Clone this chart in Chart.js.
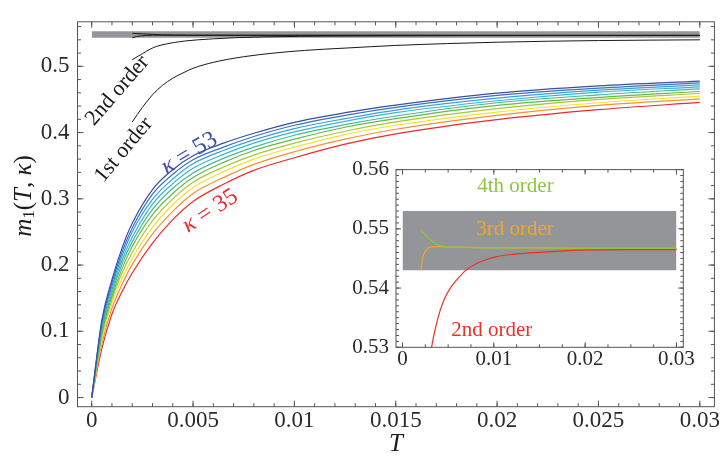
<!DOCTYPE html>
<html>
<head>
<meta charset="utf-8">
<script src="https://cdn.jsdelivr.net/npm/chart.js@4.4.1/dist/chart.umd.min.js"></script>
<style>
  html, body { margin: 0; padding: 0; background: #fff; }
  #wrap { position: relative; width: 720px; height: 457px; }
  #main { position: absolute; left: 0; top: 0; }
  #inset { position: absolute; left: 330px; top: 150px; }
</style>
</head>
<body>
<div id="wrap">
  <canvas id="main" width="720" height="457"></canvas>
  <canvas id="inset" width="370" height="230"></canvas>
</div>
<script>
// m1(T, kappa) for kappa = 53 ... 35, all on the same T grid
const tKappa = [0, 0.0005, 0.001, 0.0015, 0.002, 0.003, 0.004, 0.005, 0.0065, 0.008, 0.01, 0.0125, 0.015, 0.02, 0.025, 0.03];
const kappas = [53, 51, 49, 47, 45, 43, 41, 39, 37, 35];
const m53 = [0, 0.117, 0.178, 0.226, 0.263, 0.314, 0.344, 0.365, 0.384, 0.399, 0.4155, 0.430, 0.4415, 0.4595, 0.4705, 0.4777];
const m51 = [0, 0.113, 0.173, 0.220, 0.256, 0.307, 0.337, 0.359, 0.378, 0.394, 0.411, 0.426, 0.438, 0.456, 0.467, 0.475];
const m49 = [0, 0.109, 0.168, 0.214, 0.250, 0.299, 0.330, 0.353, 0.373, 0.389, 0.406, 0.421, 0.434, 0.452, 0.464, 0.472];
const m47 = [0, 0.105, 0.163, 0.208, 0.242, 0.292, 0.323, 0.346, 0.367, 0.384, 0.401, 0.417, 0.430, 0.448, 0.461, 0.469];
const m45 = [0, 0.101, 0.158, 0.202, 0.235, 0.284, 0.316, 0.339, 0.361, 0.378, 0.396, 0.412, 0.425, 0.445, 0.457, 0.466];
const m43 = [0, 0.097, 0.153, 0.195, 0.228, 0.276, 0.308, 0.332, 0.355, 0.373, 0.390, 0.408, 0.421, 0.441, 0.453, 0.462];
const m41 = [0, 0.092, 0.148, 0.188, 0.219, 0.267, 0.300, 0.325, 0.348, 0.366, 0.384, 0.402, 0.416, 0.436, 0.450, 0.459];
const m39 = [0, 0.087, 0.142, 0.180, 0.210, 0.257, 0.291, 0.317, 0.341, 0.360, 0.378, 0.397, 0.411, 0.431, 0.445, 0.455];
const m37 = [0, 0.081, 0.135, 0.171, 0.201, 0.247, 0.281, 0.308, 0.332, 0.352, 0.371, 0.390, 0.405, 0.426, 0.441, 0.451];
const m35 = [0, 0.074, 0.126, 0.160, 0.188, 0.233, 0.2685, 0.296, 0.322, 0.343, 0.362, 0.3825, 0.398, 0.4195, 0.4345, 0.4455];

// expansion orders
const tFirst = [0.002, 0.0025, 0.003, 0.0035, 0.004, 0.0045, 0.005, 0.006, 0.0075, 0.009, 0.0105, 0.0125, 0.015, 0.0175, 0.02, 0.025, 0.03];
const mFirst = [0.416, 0.438, 0.457, 0.4715, 0.482, 0.490, 0.497, 0.506, 0.5145, 0.520, 0.524, 0.5275, 0.5315, 0.5343, 0.5364, 0.5389, 0.540];
const tSecond = [0.002, 0.0025, 0.0029, 0.0032, 0.0037, 0.0041, 0.0046, 0.0052, 0.006, 0.0071, 0.0085, 0.0103, 0.0121, 0.0158, 0.0194, 0.025, 0.03];
const mSecond = [0.510, 0.519, 0.5262, 0.5301, 0.5338, 0.5361, 0.5382, 0.5399, 0.5415, 0.5432, 0.5444, 0.5453, 0.5457, 0.5461, 0.5464, 0.5465, 0.5465];
const tThird = [0.002, 0.0022, 0.0024, 0.0027, 0.003, 0.0035, 0.004, 0.005, 0.007, 0.01, 0.015, 0.02, 0.03];
const mThird = [0.5429, 0.5449, 0.5459, 0.5466, 0.5469, 0.5470, 0.5470, 0.5469, 0.5469, 0.5468, 0.5468, 0.5467, 0.5467];
const tFourth = [0.002, 0.0025, 0.003, 0.0035, 0.004, 0.0045, 0.005, 0.006, 0.008, 0.01, 0.015, 0.02, 0.03];
const mFourth = [0.5498, 0.5490, 0.5482, 0.5476, 0.5472, 0.5470, 0.5469, 0.5469, 0.5468, 0.5468, 0.5468, 0.5467, 0.5467];

// shaded band
const bandT = [0, 0.03];
const bandHigh = [0.553, 0.553];
const bandLow = [0.543, 0.543];

// ticks
const xTicks = [0, 0.005, 0.01, 0.015, 0.02, 0.025, 0.03];
const xTickLabels = ['0', '0.005', '0.01', '0.015', '0.02', '0.025', '0.03'];
const yTicks = [0, 0.1, 0.2, 0.3, 0.4, 0.5];
const yTickLabels = ['0', '0.1', '0.2', '0.3', '0.4', '0.5'];
const insetXTicks = [0, 0.01, 0.02, 0.03];
const insetXTickLabels = ['0', '0.01', '0.02', '0.03'];
const insetYTicks = [0.53, 0.54, 0.55, 0.56];
const insetYTickLabels = ['0.53', '0.54', '0.55', '0.56'];

const kappaSeries = [m53, m51, m49, m47, m45, m43, m41, m39, m37, m35];
const kappaColors = ['#3b4ea3', '#3c72bd', '#3a9fdb', '#35b6d6', '#46b89a', '#64ba47', '#a4c93b', '#f1e431', '#f39236', '#ec2b2c'];
const serif = '"Liberation Serif", "Times New Roman", serif';
const bandGray = '#939598';
const ink = '#1a1a1a';

function pts(ts, ms) {
    return ts.map((t, i) => ({ x: t, y: ms[i] }));
}

function line(label, data, color, width, extra) {
    return Object.assign({
        label: label,
        data: data,
        showLine: true,
        borderColor: color,
        borderWidth: width,
        pointRadius: 0,
        cubicInterpolationMode: 'monotone'
    }, extra || {});
}

function bandSets() {
    return [
        line('band', pts(bandT, bandHigh), 'rgba(0,0,0,0)', 0.01, { fill: '+1', backgroundColor: bandGray, order: 5 }),
        line('band low', pts(bandT, bandLow), 'rgba(0,0,0,0)', 0.01, { fill: false, order: 5 })
    ];
}

function minorValues(scale, step) {
    const out = [];
    const k0 = Math.ceil(scale.min / step - 1e-9);
    const k1 = Math.floor(scale.max / step + 1e-9);
    for (let k = k0; k <= k1; k++) out.push(+(k * step).toFixed(6));
    return out;
}

// box frame with inward ticks on all four sides
const framePlugin = {
    id: 'frame',
    beforeDraw(chart, args, opts) {
        const { ctx, chartArea: a } = chart;
        ctx.save();
        ctx.fillStyle = '#fff';
        if (opts.fillAll) ctx.fillRect(0, 0, chart.width, chart.height);
        else ctx.fillRect(a.left, a.top, a.right - a.left, a.bottom - a.top);
        ctx.restore();
    },
    afterDatasetsDraw(chart, args, opts) {
        const { ctx, chartArea: a, scales: { x, y } } = chart;
        ctx.save();
        ctx.strokeStyle = '#555';
        ctx.lineWidth = 1;
        ctx.beginPath();
        const xt = (v, len) => {
            const p = x.getPixelForValue(v);
            ctx.moveTo(p, a.bottom); ctx.lineTo(p, a.bottom - len);
            ctx.moveTo(p, a.top); ctx.lineTo(p, a.top + len);
        };
        const yt = (v, len) => {
            const p = y.getPixelForValue(v);
            ctx.moveTo(a.left, p); ctx.lineTo(a.left + len, p);
            ctx.moveTo(a.right, p); ctx.lineTo(a.right - len, p);
        };
        minorValues(x, opts.xMinor).forEach(v => xt(v, opts.minor));
        minorValues(y, opts.yMinor).forEach(v => yt(v, opts.minor));
        x.ticks.forEach(t => xt(t.value, opts.major));
        y.ticks.forEach(t => yt(t.value, opts.major));
        ctx.stroke();
        ctx.strokeRect(a.left, a.top, a.right - a.left, a.bottom - a.top);
        ctx.restore();
    }
};

function drawParts(ctx, cx, cy, deg, parts, color) {
    ctx.save();
    ctx.translate(cx, cy);
    ctx.rotate(deg * Math.PI / 180);
    ctx.fillStyle = color;
    ctx.textBaseline = 'middle';
    let w = 0;
    parts.forEach(p => { ctx.font = p.font; p.w = ctx.measureText(p.text).width; w += p.w; });
    let px = -w / 2;
    parts.forEach(p => { ctx.font = p.font; ctx.fillText(p.text, px, p.dy || 0); px += p.w; });
    ctx.restore();
}

const roman = size => size + 'px ' + serif;
const italic = size => 'italic ' + size + 'px ' + serif;

// curve labels and axis titles
const mainLabels = {
    id: 'mainLabels',
    afterDraw(chart) {
        const { ctx, scales: { x, y } } = chart;
        const at = (t, m) => [x.getPixelForValue(t), y.getPixelForValue(m)];
        let p = at(0.00127, 0.4633);
        drawParts(ctx, p[0], p[1], -49, [{ text: '2nd order', font: roman(22) }], ink);
        p = at(0.00158, 0.3738);
        drawParts(ctx, p[0], p[1], -50, [{ text: '1st order', font: roman(22) }], ink);
        p = at(0.00482, 0.3687);
        drawParts(ctx, p[0], p[1], -31, [{ text: 'κ', font: italic(24) }, { text: ' = ' + kappas[0], font: roman(24) }], kappaColors[0]);
        p = at(0.00585, 0.2814);
        drawParts(ctx, p[0], p[1], -33, [{ text: 'κ', font: italic(24) }, { text: ' = ' + kappas[9], font: roman(24) }], kappaColors[9]);

        drawParts(ctx, (chart.chartArea.left + chart.chartArea.right) / 2, 444, 0, [{ text: 'T', font: italic(25) }], ink);
        drawParts(ctx, 24, 196, -90, [
            { text: 'm', font: italic(25) },
            { text: '1', font: roman(17), dy: 6 },
            { text: '(', font: roman(25) },
            { text: 'T', font: italic(25) },
            { text: ', ', font: roman(25) },
            { text: 'κ', font: italic(25) },
            { text: ')', font: roman(25) }
        ], ink);
    }
};

const insetLabels = {
    id: 'insetLabels',
    afterDraw(chart) {
        const { ctx, scales: { x, y } } = chart;
        const at = (t, m) => [x.getPixelForValue(t), y.getPixelForValue(m)];
        let p = at(0.01237, 0.55707);
        drawParts(ctx, p[0], p[1], 0, [{ text: '4th order', font: roman(21) }], '#8dc63f');
        p = at(0.01232, 0.54994);
        drawParts(ctx, p[0], p[1], 0, [{ text: '3rd order', font: roman(21) }], '#f3a530');
        p = at(0.00977, 0.53291);
        drawParts(ctx, p[0], p[1], 0, [{ text: '2nd order', font: roman(21) }], '#ee3024');
    }
};

function axis(min, max, ticks, labels, size, pad, fit) {
    return {
        type: 'linear',
        min: min,
        max: max,
        grid: { display: false, drawTicks: false },
        border: { display: false },
        afterBuildTicks: s => { s.ticks = ticks.map(v => ({ value: v })); },
        afterFit: fit,
        ticks: {
            callback: (v, i) => labels[i],
            padding: pad,
            autoSkip: false,
            maxRotation: 0,
            color: '#2a2a2a',
            font: { family: serif, size: size }
        }
    };
}

function drawCharts() {
    // main panel
    const mainSets = kappaSeries.map((m, i) => line('κ = ' + kappas[i], pts(tKappa, m), kappaColors[i], 1.2));
    mainSets.push(
        line('1st order', pts(tFirst, mFirst), ink, 1),
        line('2nd order', pts(tSecond, mSecond), ink, 1),
        line('3rd order', pts(tThird, mThird), ink, 1),
        line('4th order', pts(tFourth, mFourth), ink, 1)
    );
    mainSets.push(...bandSets());

    new Chart(document.getElementById('main'), {
        type: 'scatter',
        data: { datasets: mainSets },
        options: {
            responsive: false,
            animation: false,
            devicePixelRatio: 1,
            events: [],
            layout: { padding: { top: 10.7, right: 2, left: 0, bottom: 0 } },
            plugins: {
                legend: { display: false },
                tooltip: { enabled: false },
                frame: { fillAll: true, xMinor: 0.001, yMinor: 0.02, major: 6, minor: 3.5 }
            },
            scales: {
                x: axis(-0.0007, 0.03072, xTicks, xTickLabels, 23, 0, s => { s.height = 50.3; }),
                y: axis(-0.0138, 0.5672, yTicks, yTickLabels, 23, 8, s => { s.width = 77.5; })
            }
        },
        plugins: [framePlugin, mainLabels]
    });

    // inset: close-up of the higher orders
    const insetSets = [
        line('4th order', pts(tFourth, mFourth), '#8dc63f', 1.2),
        line('3rd order', pts(tThird, mThird), '#f3a530', 1.2),
        line('2nd order', pts(tSecond, mSecond), '#ee3024', 1.2)
    ];
    insetSets.push(...bandSets());

    new Chart(document.getElementById('inset'), {
        type: 'scatter',
        data: { datasets: insetSets },
        options: {
            responsive: false,
            animation: false,
            devicePixelRatio: 1,
            events: [],
            layout: { padding: { top: 19.3, right: 16.7, left: 0, bottom: 0 } },
            plugins: {
                legend: { display: false },
                tooltip: { enabled: false },
                frame: { fillAll: false, xMinor: 0.0025, yMinor: 0.001, major: 5, minor: 3 }
            },
            scales: {
                x: axis(-0.00071, 0.03075, insetXTicks, insetXTickLabels, 21, 0, s => { s.height = 32.7; }),
                y: axis(0.53, 0.56, insetYTicks, insetYTickLabels, 21, 7, s => { s.width = 66; })
            }
        },
        plugins: [framePlugin, insetLabels]
    });
}

// make sure the serif face is ready before anything is measured
Promise.all([
    document.fonts.load('22px "Liberation Serif"'),
    document.fonts.load('italic 22px "Liberation Serif"')
]).then(drawCharts, drawCharts);
</script>
</body>
</html>
